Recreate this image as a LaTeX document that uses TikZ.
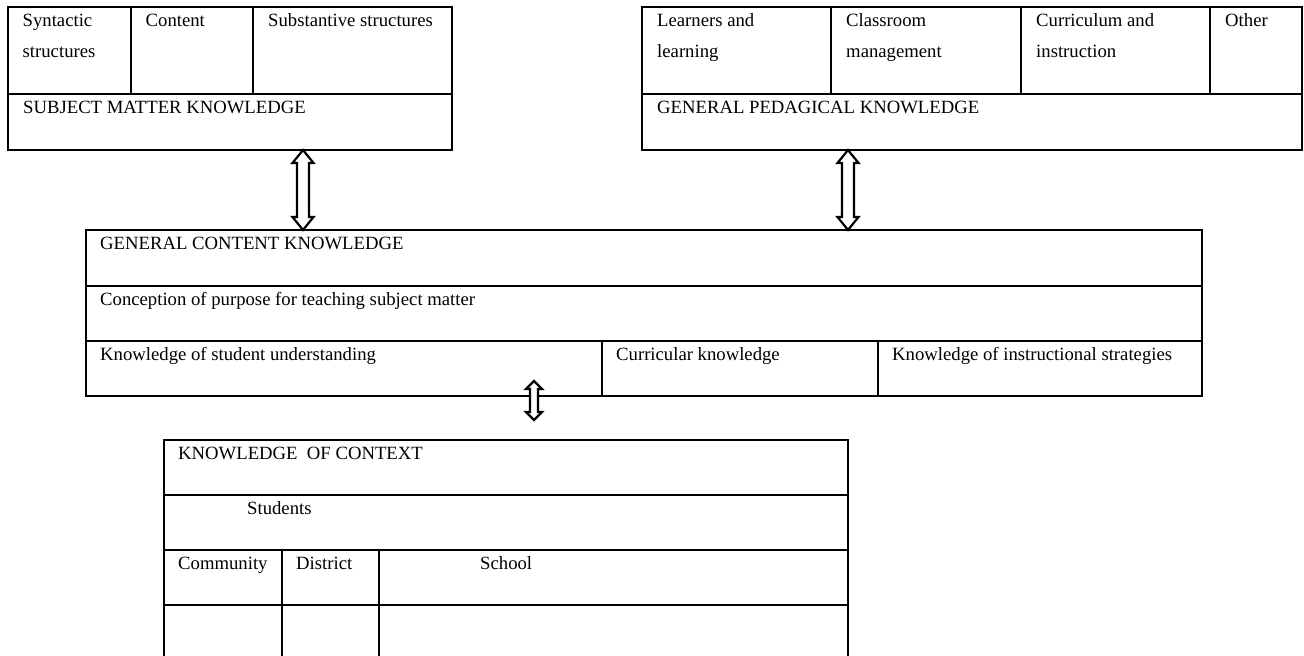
\documentclass[tikz,border=0pt]{standalone}
\usepackage{fontspec}
\setmainfont{Liberation Serif}
\usetikzlibrary{calc}
\tikzset{
  cellst/.style={draw, line width=2pt, rectangle, outer sep=0pt, inner sep=0pt, anchor=north west},
  lbl/.style={anchor=base west, inner sep=0pt, align=left, font=\fontsize{18.7}{31}\selectfont},
  blockarr/.style={draw, line width=2.2pt, fill=white, line join=miter}
}
% #1 top end, #2 bottom end, #3 head half width, #4 shaft half width, #5 head length
\newcommand\blockarrow[5]{%
  \path[blockarr] let \p1=(#1), \p2=(#2) in
    (\x1,\y1) -- (\x1+#3pt,\y1-#5pt) -- (\x1+#4pt,\y1-#5pt) -- (\x2+#4pt,\y2+#5pt)
    -- (\x2+#3pt,\y2+#5pt) -- (\x2,\y2) -- (\x2-#3pt,\y2+#5pt) -- (\x2-#4pt,\y2+#5pt)
    -- (\x1-#4pt,\y1-#5pt) -- (\x1-#3pt,\y1-#5pt) -- cycle;}
\begin{document}
\begin{tikzpicture}[x=1pt,y=-1pt]
\useasboundingbox (0,0) rectangle (1304,656);
\clip (0,0) rectangle (1304,656);

% ---- Subject matter knowledge
\node[cellst, minimum width=123pt, minimum height=87pt] (syn) at (8,7) {};
\node[cellst, minimum width=122pt, minimum height=87pt] (con) at (131,7) {};
\node[cellst, minimum width=199pt, minimum height=87pt] (sub) at (253,7) {};
\node[cellst, minimum width=444pt, minimum height=56pt] (smk) at (8,94) {};
\node[lbl] (tsyn) at ($(syn.north west)+(14.5,50.5)$) {Syntactic\\structures};
\node[lbl] (tcon) at ($(con.north west)+(14.5,19.5)$) {Content};
\node[lbl] (tsub) at ($(sub.north west)+(15,19.5)$) {Substantive structures};
\node[lbl] (tsmk) at ($(smk.north west)+(15,19.5)$) {SUBJECT MATTER KNOWLEDGE};

% ---- General pedagogical knowledge
\node[cellst, minimum width=189pt, minimum height=87pt] (lrn) at (642,7) {};
\node[cellst, minimum width=190pt, minimum height=87pt] (cls) at (831,7) {};
\node[cellst, minimum width=189pt, minimum height=87pt] (cur) at (1021,7) {};
\node[cellst, minimum width=92pt, minimum height=87pt] (oth) at (1210,7) {};
\node[cellst, minimum width=660pt, minimum height=56pt] (gpk) at (642,94) {};
\node[lbl] (tlrn) at ($(lrn.north west)+(15,50.5)$) {Learners and\\learning};
\node[lbl] (tcls) at ($(cls.north west)+(15,50.5)$) {Classroom\\management};
\node[lbl] (tcur) at ($(cur.north west)+(15,50.5)$) {Curriculum and\\instruction};
\node[lbl] (toth) at ($(oth.north west)+(15,19.5)$) {Other};
\node[lbl] (tgpk) at ($(gpk.north west)+(15,19.5)$) {GENERAL PEDAGICAL KNOWLEDGE};

% ---- General content knowledge
\node[cellst, minimum width=1116pt, minimum height=56pt] (gck) at (86,230) {};
\node[cellst, minimum width=1116pt, minimum height=55pt] (cpt) at (86,286) {};
\node[cellst, minimum width=516pt, minimum height=55pt] (ksu) at (86,341) {};
\node[cellst, minimum width=276pt, minimum height=55pt] (ckn) at (602,341) {};
\node[cellst, minimum width=324pt, minimum height=55pt] (kis) at (878,341) {};
\node[lbl] (tgck) at ($(gck.north west)+(14,19.5)$) {GENERAL CONTENT KNOWLEDGE};
\node[lbl] (tcpt) at ($(cpt.north west)+(14,19.5)$) {Conception of purpose for teaching subject matter};
\node[lbl] (tksu) at ($(ksu.north west)+(14,19.5)$) {Knowledge of student understanding};
\node[lbl] (tckn) at ($(ckn.north west)+(14,19.5)$) {Curricular knowledge};
\node[lbl] (tkis) at ($(kis.north west)+(14,19.5)$) {Knowledge of instructional strategies};

% ---- Knowledge of context
\node[cellst, minimum width=684pt, minimum height=55pt] (koc) at (164,440) {};
\node[cellst, minimum width=684pt, minimum height=55pt] (stu) at (164,495) {};
\node[cellst, minimum width=118pt, minimum height=55pt] (com) at (164,550) {};
\node[cellst, minimum width=97pt, minimum height=55pt] (dis) at (282,550) {};
\node[cellst, minimum width=469pt, minimum height=55pt] (sch) at (379,550) {};
\node[cellst, minimum width=118pt, minimum height=80pt] (com2) at (164,605) {};
\node[cellst, minimum width=97pt, minimum height=80pt] (dis2) at (282,605) {};
\node[cellst, minimum width=469pt, minimum height=80pt] (sch2) at (379,605) {};
\node[lbl] (tkoc) at ($(koc.north west)+(14,19.5)$) {KNOWLEDGE\ \ OF CONTEXT};
\node[lbl] (tstu) at ($(stu.north west)+(83,19.5)$) {Students};
\node[lbl] (tcom) at ($(com.north west)+(14,19.5)$) {Community};
\node[lbl] (tdis) at ($(dis.north west)+(14,19.5)$) {District};
\node[lbl] (tsch) at ($(sch.north west)+(101,19.5)$) {School};

% ---- block arrows
\coordinate (a1t) at ([xshift=73pt]smk.south);
\coordinate (a1b) at (gck.north -| a1t);
\coordinate (a2t) at ([xshift=-124pt]gpk.south);
\coordinate (a2b) at (gck.north -| a2t);
\coordinate (a3t) at (534,381);
\coordinate (a3b) at (534,420);
\blockarrow{a1t}{a1b}{10.5}{6}{13}
\blockarrow{a2t}{a2b}{10.5}{6}{13}
\blockarrow{a3t}{a3b}{8}{4}{8}
\end{tikzpicture}
\end{document}
